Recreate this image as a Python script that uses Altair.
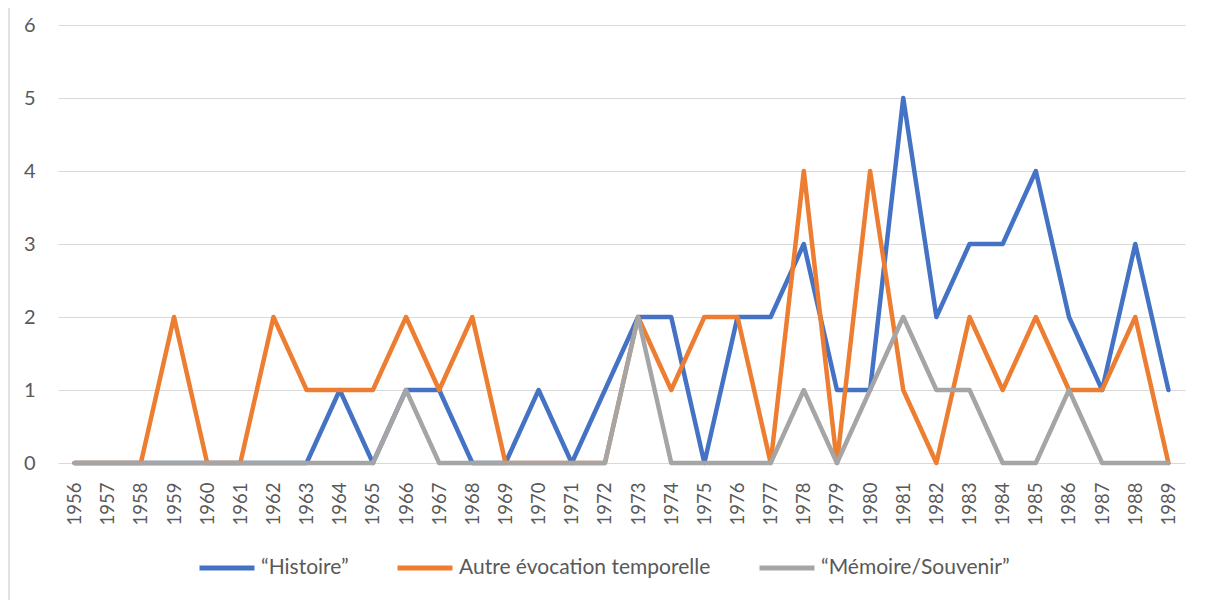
import altair as alt
import pandas as pd

years = list(range(1956, 1990))
histoire = [0,0,0,0,0,0,0,0,1,0,1,1,0,0,1,0,1,2,2,0,2,2,3,1,1,5,2,3,3,4,2,1,3,1]
autre    = [0,0,0,2,0,0,2,1,1,1,2,1,2,0,0,0,0,2,1,2,2,0,4,0,4,1,0,2,1,2,1,1,2,0]
memoire  = [0,0,0,0,0,0,0,0,0,0,1,0,0,0,0,0,0,2,0,0,0,0,1,0,1,2,1,1,0,0,1,0,0,0]
series = ["\u201cHistoire\u201d", "Autre \u00e9vocation temporelle", "\u201cM\u00e9moire/Souvenir\u201d"]
colors = ["#4472C4", "#ED7D31", "#A5A5A5"]

rows = []
for i, (name, vals) in enumerate(zip(series, [histoire, autre, memoire])):
    for y, v in zip(years, vals):
        rows.append({"year": str(y), "value": v, "series": name, "series_order": i})
df = pd.DataFrame(rows)

FONT = "Lato"
W, H = 1127, 438

lines = alt.Chart(df).mark_line(strokeWidth=4.5, strokeJoin="round", strokeCap="round").encode(
    x=alt.X("year:O", sort=[str(y) for y in years],
            scale=alt.Scale(type="point", padding=0.5),
            axis=alt.Axis(title=None, labelAngle=-90, labelFontSize=18.5, labelColor="#595959",
                          labelFont=FONT, ticks=False, domain=False, grid=False, labelPadding=19,
                          labelBaseline="middle", labelAlign="right")),
    y=alt.Y("value:Q", scale=alt.Scale(domain=[0, 6], nice=False),
            axis=alt.Axis(title=None, values=[0,1,2,3,4,5,6], labelFontSize=20, labelColor="#595959",
                          labelFont=FONT, ticks=False, domain=False, gridColor="#D9D9D9",
                          gridWidth=1, labelPadding=23)),
    color=alt.Color("series:N", sort=series, scale=alt.Scale(domain=series, range=colors),
                    legend=alt.Legend(title=None, orient="none", direction="horizontal",
                                      legendX=139, legendY=513, symbolType="stroke",
                                      symbolSize=3025, symbolStrokeWidth=5, labelFontSize=21,
                                      labelFont=FONT, labelColor="#595959", columnPadding=38,
                                      labelOffset=4, labelLimit=0)),
    order=alt.Order("series_order:Q"),
)

border = alt.Chart(pd.DataFrame({"a": [0]})).mark_rule(color="#D9D9D9", strokeWidth=1.5).encode(
    x=alt.value(-49), y=alt.value(-17), y2=alt.value(H + 200)
)

chart = alt.layer(border, lines).properties(
    width=W, height=H,
    autosize=alt.AutoSizeParams(type="none"),
    padding={"left": 50, "top": 17, "right": 10, "bottom": 150},
).configure(background="white").configure_view(stroke=None, strokeWidth=0)

chart.save("out.html", embed_options={"renderer": "svg", "actions": False})
